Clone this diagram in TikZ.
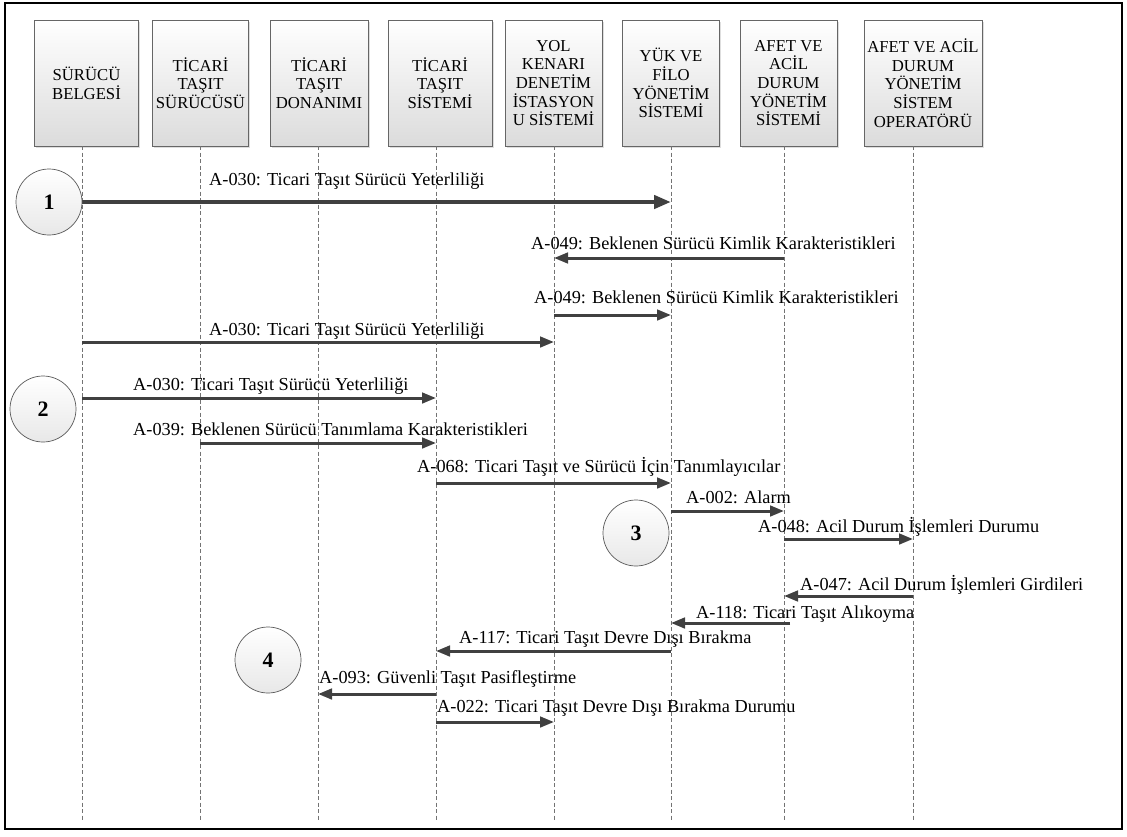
\documentclass[tikz,border=0pt]{standalone}
\usepackage{fontspec}
\setmainfont{Liberation Serif}
\usetikzlibrary{arrows.meta,calc,shadows}
\begin{document}
\begin{tikzpicture}[x=1pt,y=-1pt,
  actorbox/.style={draw=black!60, line width=0.6pt, top color=white, bottom color=black!14,
    minimum height=126pt, inner sep=0pt, align=center,
    font=\fontsize{16.7}{18.7}\selectfont,
    drop shadow={shadow xshift=1.5pt, shadow yshift=-1.5pt, fill=black!25, opacity=0.5}},
  lifeline/.style={draw=black!55, line width=0.7pt, dash pattern=on 4pt off 2.5pt},
  msg/.style={draw=black!75, line width=3pt, -{Triangle[length=14pt,width=10.5pt]}},
  msgthick/.style={draw=black!75, line width=4.8pt, -{Triangle[length=17pt,width=13pt]}},
  msglabel/.style={anchor=base west, inner sep=0pt, font=\fontsize{18.3}{21}\selectfont},
  stepcirc/.style={circle, draw=black!65, line width=0.7pt, minimum size=66pt, inner sep=0pt,
    top color=white, bottom color=black!9, font=\fontsize{22}{24}\selectfont\bfseries}]

% canvas and frame
\useasboundingbox (0,0) rectangle (1127,836);
\fill[white] (0,0) rectangle (1127,836);
\draw[black, line width=2pt] (5,3) rectangle (1122,829);

% participants
\node[actorbox, minimum width=104pt] (b1) at (86.5,83) {SÜRÜCÜ\\BELGESİ};
\node[actorbox, minimum width=96pt]  (b2) at (200.5,83) {TİCARİ\\TAŞIT\\SÜRÜCÜSÜ};
\node[actorbox, minimum width=98pt]  (b3) at (319,83) {TİCARİ\\TAŞIT\\DONANIMI};
\node[actorbox, minimum width=104pt] (b4) at (440,83) {TİCARİ\\TAŞIT\\SİSTEMİ};
\node[actorbox, minimum width=97pt]  (b5) at (553.5,83) {YOL\\KENARI\\DENETİM\\İSTASYON\\U SİSTEMİ};
\node[actorbox, minimum width=97pt]  (b6) at (671,83) {YÜK VE\\FİLO\\YÖNETİM\\SİSTEMİ};
\node[actorbox, minimum width=97pt]  (b7) at (788.5,83) {AFET VE\\ACİL\\DURUM\\YÖNETİM\\SİSTEMİ};
\node[actorbox, minimum width=118pt] (b8) at (923,83) {AFET VE ACİL\\DURUM\\YÖNETİM\\SİSTEM\\OPERATÖRÜ};

% lifelines
\coordinate (L1) at (82,146);
\coordinate (L2) at (200,146);
\coordinate (L3) at (318,146);
\coordinate (L4) at (436,146);
\coordinate (L5) at (554,146);
\coordinate (L6) at (671,146);
\coordinate (L7) at (784,146);
\coordinate (L8) at (913,146);
\foreach \l in {L1,L2,L3,L4,L5,L6,L7,L8}
  \draw[lifeline] (\l) -- (\l |- 0,820);

% messages
\draw[msgthick] (L1 |- 0,202) -- (L6 |- 0,202);
\node[msglabel] (m1) at (209,185) {A-030: Ticari Taşıt Sürücü Yeterliliği};

\draw[msg] (L7 |- 0,258) -- (L5 |- 0,258);
\node[msglabel] (m2) at (531,249) {A-049: Beklenen Sürücü Kimlik Karakteristikleri};

\draw[msg] (L5 |- 0,315) -- (L6 |- 0,315);
\node[msglabel] (m3) at (534,303) {A-049: Beklenen Sürücü Kimlik Karakteristikleri};

\draw[msg] (L1 |- 0,342) -- (L5 |- 0,342);
\node[msglabel] (m4) at (209,335) {A-030: Ticari Taşıt Sürücü Yeterliliği};

\draw[msg] (L1 |- 0,398) -- (L4 |- 0,398);
\node[msglabel] (m5) at (133,390) {A-030: Ticari Taşıt Sürücü Yeterliliği};

\draw[msg] (L2 |- 0,443) -- (L4 |- 0,443);
\node[msglabel] (m6) at (133,435) {A-039: Beklenen Sürücü Tanımlama Karakteristikleri};

\draw[msg] (L4 |- 0,483) -- (L6 |- 0,483);
\node[msglabel] (m7) at (417,472) {A-068: Ticari Taşıt ve Sürücü İçin Tanımlayıcılar};

\draw[msg] (L6 |- 0,511) -- (L7 |- 0,511);
\node[msglabel] (m8) at (686,503) {A-002: Alarm};

\draw[msg] (L7 |- 0,539) -- (L8 |- 0,539);
\node[msglabel] (m9) at (758,532) {A-048: Acil Durum İşlemleri Durumu};

\draw[msg] (L8 |- 0,596) -- (L7 |- 0,596);
\node[msglabel] (m10) at (800,590) {A-047: Acil Durum İşlemleri Girdileri};

\draw[msg] ($(L7 |- 0,623)+(6,0)$) -- (L6 |- 0,623);
\node[msglabel] (m11) at (696,618) {A-118: Ticari Taşıt Alıkoyma};

\draw[msg] (L6 |- 0,651) -- (L4 |- 0,651);
\node[msglabel] (m12) at (459,643) {A-117: Ticari Taşıt Devre Dışı Bırakma};

\draw[msg] (L4 |- 0,694) -- (L3 |- 0,694);
\node[msglabel] (m13) at (319,683) {A-093: Güvenli Taşıt Pasifleştirme};

\draw[msg] (L4 |- 0,722) -- (L5 |- 0,722);
\node[msglabel] (m14) at (437,712) {A-022: Ticari Taşıt Devre Dışı Bırakma Durumu};

% phase markers
\node[stepcirc] (c1) at (49,202) {1};
\node[stepcirc] (c2) at (43,409) {2};
\node[stepcirc] (c3) at (636,533) {3};
\node[stepcirc] (c4) at (268,660) {4};
\end{tikzpicture}
\end{document}
